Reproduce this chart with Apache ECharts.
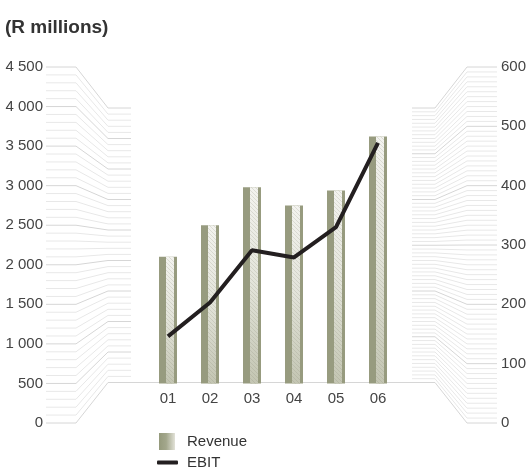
<!DOCTYPE html>
<html>
<head>
<meta charset="utf-8">
<script src="https://cdn.jsdelivr.net/npm/echarts@6/dist/echarts.min.js"></script>
<style>
  html, body { margin: 0; padding: 0; background: #fff; }
  #main { width: 529px; height: 472px; }
</style>
</head>
<body>
<div id="main"></div>
<script>
// Financial years and results
const categories = ['01', '02', '03', '04', '05', '06'];
const revenue = [2100, 2500, 2980, 2750, 2940, 3620];   // R millions, left axis
const ebit = [146, 203, 291, 279, 330, 472];            // R millions, right axis

// Axis tick labels
const revenueTicks = [0, 500, 1000, 1500, 2000, 2500, 3000, 3500, 4000, 4500];
const ebitTicks = [0, 100, 200, 300, 400, 500, 600];

// Fan guide lines: values at which each decorative rule is drawn
const revenueGuides = Array.from({ length: 46 }, (_, i) => i * 100);
const ebitGuides = Array.from({ length: 73 }, (_, i) => i * 600 / 72);

const FONT = '"Liberation Sans", Arial, sans-serif';
const revMin = revenueTicks[0], revMax = revenueTicks[revenueTicks.length - 1];
const ebitMin = ebitTicks[0], ebitMax = ebitTicks[ebitTicks.length - 1];
const barBase = 500;                                  // revenue level where the bars start
const ebitBase = barBase / revMax * ebitMax;          // same level on the EBIT scale

const fmt = v => String(v).replace(/\B(?=(\d{3})+(?!\d))/g, ' ');

// Diagonal hatch used on the light face of each bar
const hatch = document.createElement('canvas');
hatch.width = 4; hatch.height = 4;
(function () {
  const c = hatch.getContext('2d');
  c.strokeStyle = 'rgba(140,140,125,0.22)';
  c.lineWidth = 1;
  c.beginPath();
  c.moveTo(0, 0); c.lineTo(4, 4);
  c.stroke();
})();

const chart = echarts.init(document.getElementById('main'), null, { renderer: 'canvas' });

const hidden = { show: false };
const revenueIconColor = new echarts.graphic.LinearGradient(0, 0, 1, 0, [
  { offset: 0, color: '#959a7c' }, { offset: 0.45, color: '#a3a78c' },
  { offset: 1, color: '#e2e2d8' }
]);

chart.setOption({
  animation: false,
  title: {
    text: '(R millions)', left: 0, top: 13,
    textStyle: { fontFamily: FONT, fontSize: 19, fontWeight: 'bold', color: '#333' }
  },
  legend: [
    {
      data: [{ name: 'Revenue', icon: 'rect' }], orient: 'vertical',
      left: 154, top: 428, itemWidth: 16, itemHeight: 17,
      textStyle: { fontFamily: FONT, fontSize: 15, color: '#333', padding: [0, 0, 0, 7] }
    },
    {
      data: [{ name: 'EBIT', icon: 'roundRect' }], orient: 'vertical',
      left: 152, top: 450, itemWidth: 21, itemHeight: 4,
      textStyle: { fontFamily: FONT, fontSize: 15, color: '#333', padding: [0, 0, 0, 4] }
    }
  ],
  grid: [
    // outer scale carrying the axis labels
    { left: 46, right: 32, top: 67, height: 356 },
    // plot area for bars and line (same vertical scale, starting at barBase)
    { left: 147, width: 252, top: 67, height: 356 * (revMax - barBase) / revMax },
    // inner end of the fan rules
    { left: 108, width: 327, top: 108, height: 274.5 }
  ],
  xAxis: [
    { gridIndex: 0, type: 'value', show: false },
    {
      gridIndex: 1, type: 'category', data: categories,
      axisLine: hidden, axisTick: hidden,
      axisLabel: { fontFamily: FONT, fontSize: 15, color: '#444', margin: 8 }
    },
    { gridIndex: 2, type: 'value', show: false }
  ],
  yAxis: [
    {
      gridIndex: 0, type: 'value', position: 'left',
      min: revMin, max: revMax, interval: revenueTicks[1] - revenueTicks[0],
      axisLine: hidden, axisTick: hidden, splitLine: hidden,
      axisLabel: { fontFamily: FONT, fontSize: 15, color: '#444', margin: 3, formatter: fmt }
    },
    {
      gridIndex: 0, type: 'value', position: 'right',
      min: ebitMin, max: ebitMax, interval: ebitTicks[1] - ebitTicks[0],
      axisLine: hidden, axisTick: hidden, splitLine: hidden,
      axisLabel: { fontFamily: FONT, fontSize: 15, color: '#444', margin: 4, formatter: fmt }
    },
    { gridIndex: 1, type: 'value', min: barBase, max: revMax, show: false, splitLine: hidden },
    { gridIndex: 1, type: 'value', min: ebitBase, max: ebitMax, show: false, splitLine: hidden },
    { gridIndex: 2, type: 'value', min: revMin, max: revMax, show: false, splitLine: hidden },
    { gridIndex: 2, type: 'value', min: ebitMin, max: ebitMax, show: false, splitLine: hidden }
  ],
  series: [
    {
      name: 'Revenue', type: 'custom', xAxisIndex: 1, yAxisIndex: 2,
      itemStyle: { color: revenueIconColor },
      encode: { x: 0, y: 1 },
      data: revenue.map((v, i) => [i, v]),
      renderItem: function (params, api) {
        const top = api.coord([api.value(0), api.value(1)]);
        const base = api.coord([api.value(0), barBase]);
        const w = 18, x0 = top[0] - w / 2, h = base[1] - top[1];
        return {
          type: 'group',
          children: [
            { type: 'rect', shape: { x: x0, y: top[1], width: w, height: h },
              style: { fill: '#979b7f' } },
            { type: 'rect', shape: { x: x0 + 7, y: top[1], width: 8, height: h },
              style: { fill: new echarts.graphic.LinearGradient(0, 0, 0, 1, [
                { offset: 0, color: '#f3f3ef' }, { offset: 0.5, color: '#e2e3d9' },
                { offset: 1, color: '#c3c5b2' }]) } },
            { type: 'rect', shape: { x: x0 + 7, y: top[1], width: 8, height: h },
              style: { fill: { image: hatch, repeat: 'repeat' } } }
          ]
        };
      }
    },
    {
      name: 'EBIT', type: 'line', xAxisIndex: 1, yAxisIndex: 3,
      data: ebit, symbol: 'none',
      itemStyle: { color: '#231f20' },
      lineStyle: { color: '#231f20', width: 4 }
    }
  ]
});

// Fan rules joining each outer scale to the compressed inner scale
function fanRules() {
  const els = [];
  const px = (axis, v) => chart.convertToPixel({ yAxisIndex: axis }, v);
  revenueGuides.forEach(v => {
    const yo = px(0, v), yi = px(4, v);
    const major = v % 500 === 0;
    const endX = v === 0 ? 435 : 131;
    els.push({
      type: 'polyline', silent: true,
      shape: { points: [[46, yo], [76, yo], [108, yi], [endX, yi]] },
      style: { stroke: major ? '#d6d6d6' : '#e8e8e8', lineWidth: 1, fill: null }
    });
  });
  ebitGuides.forEach(v => {
    const yo = px(1, v), yi = px(5, v);
    const major = Math.abs(v / 100 - Math.round(v / 100)) < 1e-6;
    els.push({
      type: 'polyline', silent: true,
      shape: { points: [[412, yi], [435, yi], [467, yo], [497, yo]] },
      style: { stroke: major ? '#d6d6d6' : '#e8e8e8', lineWidth: 1, fill: null }
    });
  });
  return els;
}

chart.setOption({ graphic: { elements: fanRules().map(e => Object.assign(e, { z: -1 })) } });
</script>
</body>
</html>
